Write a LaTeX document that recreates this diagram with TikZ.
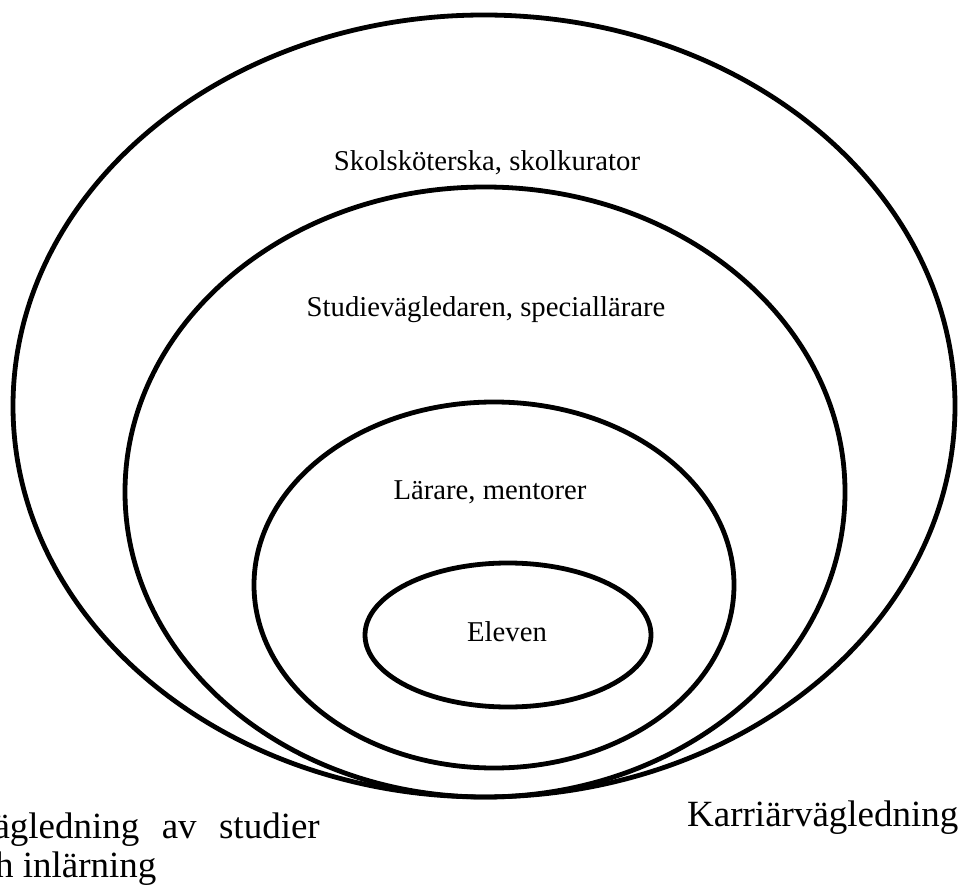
\documentclass[tikz,border=0pt]{standalone}
\usepackage{fontspec}
\setmainfont{Liberation Serif}
\begin{document}
\begin{tikzpicture}[x=1pt,y=-1pt,
  ring/.style={line width=4.8pt},
  innerlabel/.style={font=\fontsize{28.7}{34}\selectfont, inner sep=0pt},
  outerlabel/.style={font=\fontsize{37}{44}\selectfont, inner sep=0pt}]
\useasboundingbox (0,0) rectangle (961,890);
\clip (0,0) rectangle (961,890);
% nested circles of support around the pupil
\draw[ring] (484,406) ellipse [x radius=471, y radius=391];
\draw[ring] (485,492) ellipse [x radius=360, y radius=305];
\draw[ring] (494,585) ellipse [x radius=240, y radius=183];
\draw[ring] (508,635) ellipse [x radius=143, y radius=72];
% labels of the rings
\node[innerlabel, anchor=base] (skol) at (487,171) {Skolsköterska, skolkurator};
\node[innerlabel, anchor=base] (stud) at (486,317) {Studievägledaren, speciallärare};
\node[innerlabel, anchor=base] (lar) at (490,499) {Lärare, mentorer};
\node[innerlabel, anchor=base] (elev) at (507,641) {Eleven};
% labels below the rings
\node[outerlabel, anchor=base east] (vag1) at (320,838) {\makebox[353pt][s]{Vägledning av studier}};
\node[outerlabel, anchor=base west] (vag2) at (-40,877) {och inlärning};
\node[outerlabel, anchor=base west] (karr) at (687,826) {Karriärvägledning};
\end{tikzpicture}
\end{document}
